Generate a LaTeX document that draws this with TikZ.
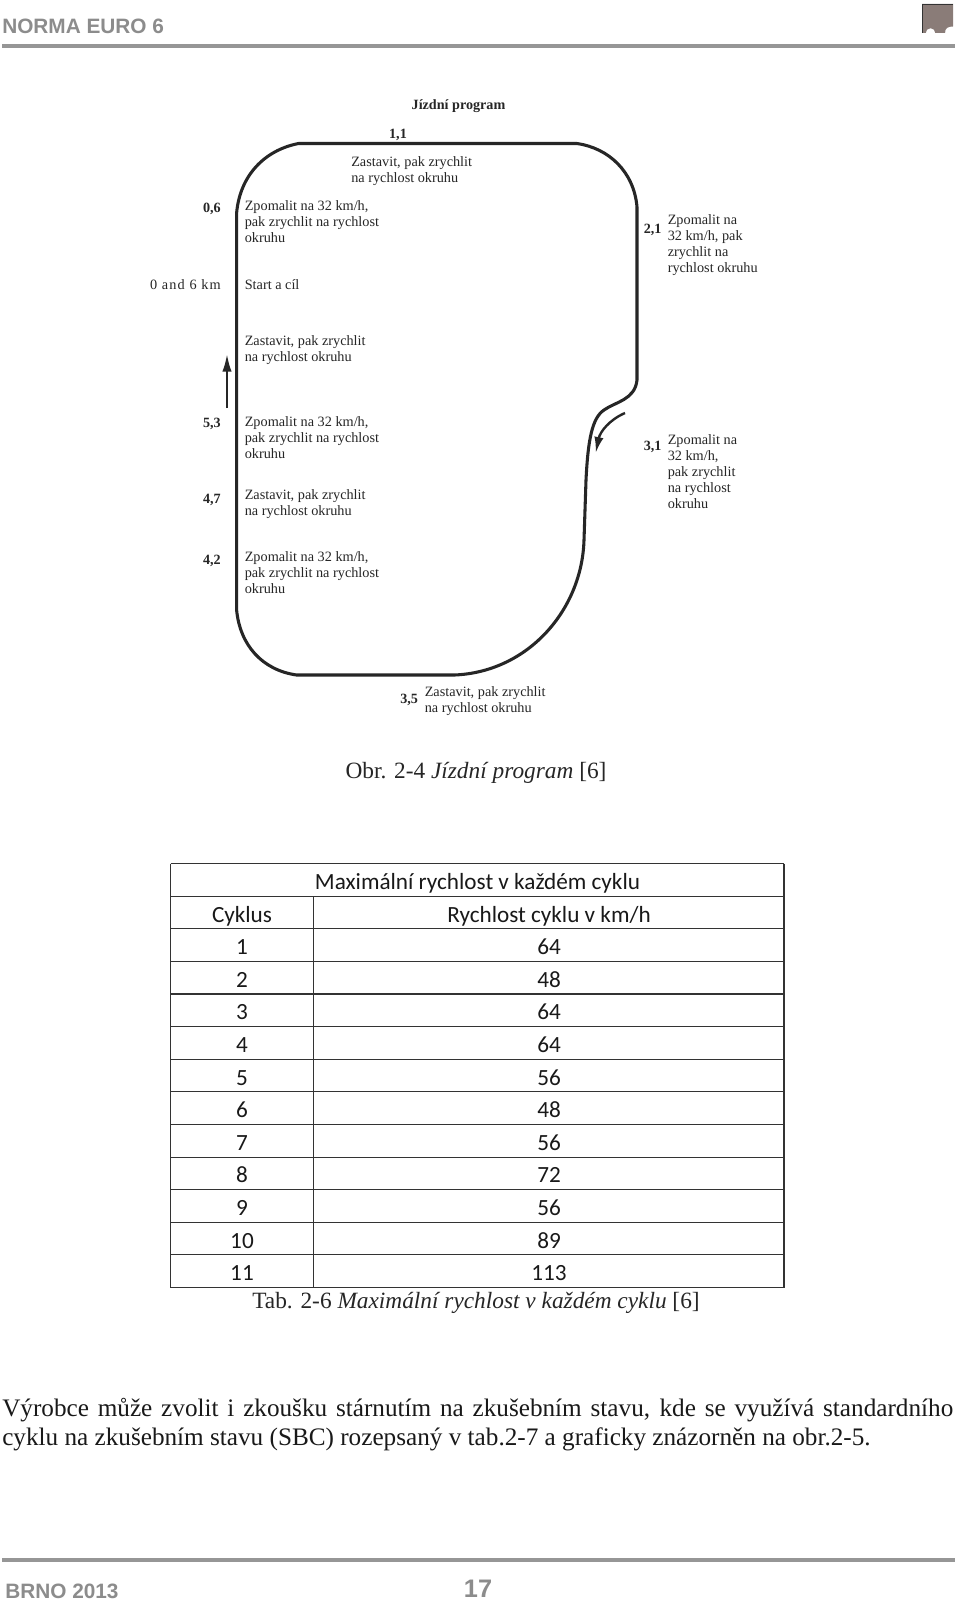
\documentclass[tikz,border=0pt]{standalone}
\usepackage{fontspec}
\usetikzlibrary{arrows.meta}
\setmainfont{Liberation Serif}
\newfontfamily\armo{Liberation Sans}
\newfontfamily\cali{Carlito}
\definecolor{hdr}{RGB}{140,140,140}
\definecolor{rulec}{RGB}{150,150,150}
\definecolor{logoc}{RGB}{138,124,120}
\definecolor{ink}{RGB}{38,38,38}
\tikzset{
  x=0.75pt,y=-0.75pt,
  lab/.style={font=\fontsize{10.7}{12}\selectfont,text=ink,inner sep=0pt,anchor=west,align=left},
  num/.style={font=\fontsize{10.6}{12}\selectfont\bfseries,text=ink,inner sep=0pt},
  hd/.style={font=\armo\fontsize{15.6}{18}\selectfont\bfseries,text=hdr,inner sep=0pt},
  hdrule/.style={draw=rulec,line width=3pt},
  track/.style={draw=ink,line width=2.3pt,line join=round},
  cell/.style={font=\cali\fontsize{17.4}{20}\selectfont,text=black!90,inner sep=0pt,anchor=base},
  tabrule/.style={draw=black!80,line width=0.8pt},
  captxt/.style={font=\fontsize{17.5}{20}\selectfont,inner sep=0pt,text=black!85},
}
\begin{document}
\begin{tikzpicture}
\useasboundingbox[fill=white] (0,0) rectangle (960,1601);
% header
\node[hd,anchor=west] (title) at (2,26) {NORMA EURO 6};
\draw[hdrule] (2,46) -- (955,46);
\fill[logoc] (922,4) -- (953,4) -- (953,26.5) .. controls (948,26.5) and (945,28) .. (945,33) -- (935.3,33)
  arc[start angle=0,end angle=-180,radius=4.8] -- (922,33) -- cycle;
\draw[black!80,line width=0.5pt] (922,33) -- (922,4) -- (953,4);
% track
\draw[track] (236.6,213) .. controls (240,175) and (265,150) .. (298.6,143.5) -- (576.7,143.5)
  .. controls (609,148) and (634,172) .. (637,207) -- (637,380)
  .. controls (635,400) and (615,402) .. (604,410)
  .. controls (592,418) and (588,440) .. (586,480) -- (584,540)
  .. controls (582,610) and (528,672) .. (454.5,675) -- (296.5,675)
  .. controls (262,670) and (240,645) .. (236.6,610) -- cycle;
\draw[ink,line width=2.2pt,-{Latex[length=14pt,width=7pt]}] (227,408) -- (227,353);
\draw[ink,line width=1.8pt,-{Latex[length=12pt,width=7pt]}] (625,413) .. controls (609,420) and (600,432) .. (595.7,453);
% labels
\node[num] (jp) at (458.5,106) {Jízdní program};
\node[num] (n11) at (398,135) {1,1};
\node[lab] (t11) at (351,171.5) {Zastavit, pak zrychlit\\na rychlost okruhu};
\node[num,anchor=east] (n06) at (221,209) {0,6};
\node[lab] (t06) at (244.5,222) {Zpomalit na 32 km/h,\\pak zrychlit na rychlost\\okruhu};
\node[num,anchor=west] (n21) at (643.5,230) {2,1};
\node[lab] (t21) at (667.5,245.5) {Zpomalit na\\32 km/h, pak\\zrychlit na\\rychlost okruhu};
\node[lab,anchor=east] (n0) at (221,285) {\addfontfeature{LetterSpace=8}0 and 6 km};
\node[lab] (t0) at (244.5,285) {Start a cíl};
\node[lab] (t0b) at (244.5,350.5) {Zastavit, pak zrychlit\\na rychlost okruhu};
\node[num,anchor=east] (n53) at (221,424) {5,3};
\node[lab] (t53) at (244.5,438) {Zpomalit na 32 km/h,\\pak zrychlit na rychlost\\okruhu};
\node[num,anchor=east] (n47) at (221,500) {4,7};
\node[lab] (t47) at (244.5,504.5) {Zastavit, pak zrychlit\\na rychlost okruhu};
\node[num,anchor=east] (n42) at (221,561) {4,2};
\node[lab] (t42) at (244.5,573) {Zpomalit na 32 km/h,\\pak zrychlit na rychlost\\okruhu};
\node[num,anchor=west] (n31) at (643.5,447) {3,1};
\node[lab] (t31) at (667.5,472) {Zpomalit na\\32 km/h,\\pak zrychlit\\na rychlost\\okruhu};
\node[num,anchor=west] (n35) at (400,700) {3,5};
\node[lab] (t35) at (424.5,701) {Zastavit, pak zrychlit\\na rychlost okruhu};
\node[captxt] (capA) at (476,773) {Obr. 2-4 \textit{Jízdní program} [6]};
% table
\foreach \i in {0,...,13}{\draw[tabrule] (170.5,{863.5+\i*32.62}) -- (784,{863.5+\i*32.62});}
\draw[tabrule] (170.5,863.5) -- (170.5,1287.5);
\draw[tabrule] (784,863.5) -- (784,1287.5);
\draw[tabrule] (313.5,896.1) -- (313.5,1287.5);
\node[cell] (head) at (477.5,889.3) {Maximální rychlost v každém cyklu};
\node[cell] (h1) at (242,922) {Cyklus};
\node[cell] (h2) at (549,922) {Rychlost cyklu v km/h};
\foreach \r/\a/\b in {0/1/64,1/2/48,2/3/64,3/4/64,4/5/56,5/6/48,6/7/56,7/8/72,8/9/56,9/10/89,10/11/113}{
  \node[cell] (c\a) at (242,{954.6+\r*32.62}) {\a};
  \node[cell] (v\a) at (549,{954.6+\r*32.62}) {\b};
}
\node[captxt] (capB) at (476,1303) {Tab. 2-6 \textit{Maximální rychlost v každém cyklu} [6]};
% body
\node[inner sep=0pt,anchor=north west,text width=951*0.75pt,align=justify,font=\fontsize{18.9}{21.5}\selectfont,text=black!90] (body) at (2,1398)
  {Výrobce může zvolit i zkoušku stárnutím na zkušebním stavu, kde se využívá standardního\linebreak cyklu na zkušebním stavu (SBC) rozepsaný v tab.2-7 a graficky znázorněn na obr.2-5.};
% footer
\draw[hdrule] (2,1560) -- (955,1560);
\node[hd,anchor=west] (brno) at (5,1591) {BRNO 2013};
\node[hd,font=\armo\fontsize{19}{22}\selectfont\bfseries] (page) at (478,1589) {17};
\end{tikzpicture}
\end{document}
